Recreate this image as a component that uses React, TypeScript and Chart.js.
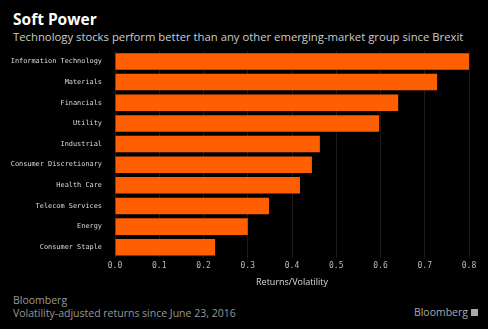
import React, { useEffect, useRef } from "react";
import { Chart, registerables } from "chart.js";

Chart.register(...registerables);

const categories = [
  "Information Technology",
  "Materials",
  "Financials",
  "Utility",
  "Industrial",
  "Consumer Discretionary",
  "Health Care",
  "Telecom Services",
  "Energy",
  "Consumer Staple",
];
const values = [0.8, 0.728, 0.64, 0.597, 0.463, 0.445, 0.418, 0.348, 0.3, 0.226];
const xTicks = [0, 0.1, 0.2, 0.3, 0.4, 0.5, 0.6, 0.7, 0.8];

const title = "Soft Power";
const subtitle = "Technology stocks perform better than any other emerging-market group since Brexit";
const source = "Bloomberg";
const note = "Volatility-adjusted returns since June 23, 2016";
const axisTitle = "Returns/Volatility";

export default function App() {
  const ref = useRef<HTMLCanvasElement | null>(null);

  useEffect(() => {
    document.body.style.margin = "0";
    document.body.style.background = "#000";
    const chart = new Chart(ref.current!, {
      type: "bar",
      data: {
        labels: categories,
        datasets: [
          {
            data: values,
            backgroundColor: "#ff5f00",
            borderWidth: 0,
            barPercentage: 0.8,
            categoryPercentage: 1,
          },
        ],
      },
      options: {
        indexAxis: "y",
        animation: false,
        responsive: false,
        maintainAspectRatio: false,
        layout: { padding: { top: 3, right: 19, left: 0, bottom: 0 } },
        plugins: { legend: { display: false }, tooltip: { enabled: false } },
        scales: {
          x: {
            min: 0,
            max: 0.8,
            afterBuildTicks: (s: any) => {
              s.ticks = xTicks.map((v) => ({ value: v }));
            },
            ticks: {
              color: "#bbb",
              font: { family: "DejaVu Sans Mono", size: 8 },
              callback: (v: any) => Number(v).toFixed(1),
              maxRotation: 0,
              padding: 4,
            },
            grid: { color: "#1c1c1c", drawTicks: false },
            border: { display: false },
            title: {
              display: true,
              text: axisTitle,
              color: "#ddd",
              font: { family: "Open Sans", size: 9 },
              padding: { top: 2, bottom: 0 },
            },
          },
          y: {
            afterFit: (s: any) => {
              s.width = 115;
            },
            ticks: {
              color: "#ddd",
              font: { family: "DejaVu Sans Mono", size: 6.9 },
              padding: 5,
            },
            grid: { display: false },
            border: { display: false },
          },
        },
      },
    });
    return () => chart.destroy();
  }, []);

  return (
    <div
      style={{
        position: "relative",
        width: 488,
        height: 329,
        background: "#000",
        overflow: "hidden",
        fontFamily: "Open Sans",
      }}
    >
      <div
        style={{
          position: "absolute",
          left: 13,
          top: 10,
          color: "#fff",
          fontWeight: 700,
          fontSize: 15.5,
          lineHeight: "18px",
          fontFamily: "Open Sans",
        }}
      >
        {title}
      </div>
      <div
        style={{
          position: "absolute",
          left: 13,
          top: 29,
          color: "#ccc",
          fontSize: 11.3,
          lineHeight: "15px",
          whiteSpace: "nowrap",
        }}
      >
        {subtitle}
      </div>
      <canvas
        ref={ref}
        width={488}
        height={246}
        style={{ position: "absolute", left: 0, top: 42, width: 488, height: 246 }}
      />
      <div
        style={{
          position: "absolute",
          left: 13,
          top: 294,
          color: "#999",
          fontSize: 10.5,
          lineHeight: "13px",
        }}
      >
        {source}
      </div>
      <div
        style={{
          position: "absolute",
          left: 13,
          top: 307,
          color: "#999",
          fontSize: 10.5,
          lineHeight: "13px",
          whiteSpace: "nowrap",
        }}
      >
        {note}
      </div>
      <div
        style={{
          position: "absolute",
          right: 10,
          top: 306,
          color: "#aaa",
          fontSize: 10.5,
          lineHeight: "13px",
          display: "flex",
          alignItems: "center",
          gap: 3,
        }}
      >
        <span>Bloomberg</span>
        <span style={{ display: "inline-block", width: 7, height: 7, background: "#aaa" }} />
      </div>
    </div>
  );
}
